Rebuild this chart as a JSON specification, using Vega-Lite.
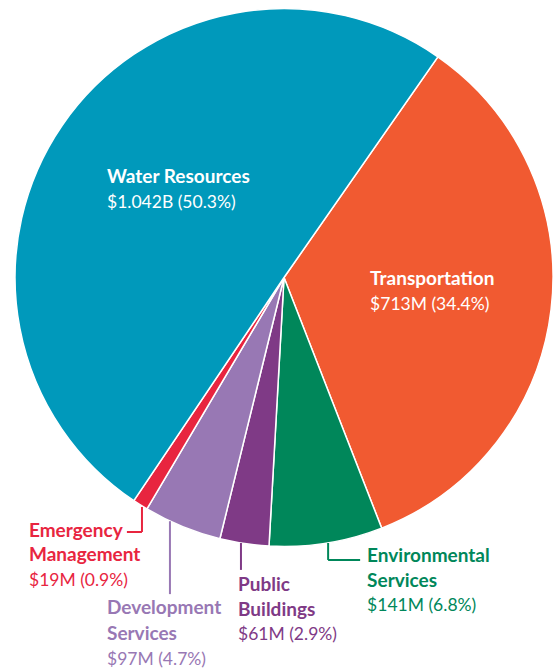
{
  "$schema": "https://vega.github.io/schema/vega-lite/v6.json",
  "width": 550,
  "height": 555,
  "autosize": {"type": "none"},
  "padding": {"left": 9, "top": 0, "right": 0, "bottom": 114},
  "background": "white",
  "config": {"view": {"stroke": null}},
  "datasets": {
    "slices": [
      {"cat": "Transportation", "amount": 713, "order": 1},
      {"cat": "Environmental Services", "amount": 141, "order": 2},
      {"cat": "Public Buildings", "amount": 61, "order": 3},
      {"cat": "Development Services", "amount": 97, "order": 4},
      {"cat": "Emergency Management", "amount": 19, "order": 5},
      {"cat": "Water Resources", "amount": 1042, "order": 6}
    ],
    "labels": [
      {"cat": "Water Resources", "text": "Water Resources", "kind": "name", "inside": true, "u": -65.8, "v": 35.1},
      {"cat": "Water Resources", "text": "$1.042B (50.3%)", "kind": "value", "inside": true, "u": -65.8, "v": 25.8},
      {"cat": "Transportation", "text": "Transportation", "kind": "name", "inside": true, "u": 32.0, "v": -2.8},
      {"cat": "Transportation", "text": "$713M (34.4%)", "kind": "value", "inside": true, "u": 32.0, "v": -12.1},
      {"cat": "Environmental Services", "text": "Environmental", "kind": "name", "inside": false, "u": 30.9, "v": -105.8},
      {"cat": "Environmental Services", "text": "Services", "kind": "name", "inside": false, "u": 30.9, "v": -115.1},
      {"cat": "Environmental Services", "text": "$141M (6.8%)", "kind": "value", "inside": false, "u": 30.9, "v": -124.0},
      {"cat": "Public Buildings", "text": "Public", "kind": "name", "inside": false, "u": -17.1, "v": -116.5},
      {"cat": "Public Buildings", "text": "Buildings", "kind": "name", "inside": false, "u": -17.1, "v": -125.8},
      {"cat": "Public Buildings", "text": "$61M (2.9%)", "kind": "value", "inside": false, "u": -17.1, "v": -134.8},
      {"cat": "Development Services", "text": "Development", "kind": "name", "inside": false, "u": -65.8, "v": -125.1},
      {"cat": "Development Services", "text": "Services", "kind": "name", "inside": false, "u": -65.8, "v": -134.8},
      {"cat": "Development Services", "text": "$97M (4.7%)", "kind": "value", "inside": false, "u": -65.8, "v": -144.1},
      {"cat": "Emergency Management", "text": "Emergency", "kind": "name", "inside": false, "u": -94.8, "v": -96.5},
      {"cat": "Emergency Management", "text": "Management", "kind": "name", "inside": false, "u": -94.8, "v": -105.4},
      {"cat": "Emergency Management", "text": "$19M (0.9%)", "kind": "value", "inside": false, "u": -94.8, "v": -114.7}
    ],
    "leaders": [
      {"cat": "Emergency Management", "u": -52.8, "v": -85.3, "u2": -52.8, "v2": -94.6},
      {"cat": "Emergency Management", "u": -58.4, "v": -94.6, "u2": -52.8, "v2": -94.6},
      {"cat": "Development Services", "u": -42.4, "v": -90.6, "u2": -42.4, "v2": -117.7},
      {"cat": "Public Buildings", "u": -16.0, "v": -98.7, "u2": -16.0, "v2": -108.7},
      {"cat": "Environmental Services", "u": 16.4, "v": -98.7, "u2": 16.4, "v2": -105.0},
      {"cat": "Environmental Services", "u": 16.4, "v": -105.0, "u2": 28.3, "v2": -105.0}
    ]
  },
  "layer": [
    {
      "data": {"name": "slices"},
      "mark": {"type": "arc", "outerRadius": 269, "stroke": "white", "strokeWidth": 1.5},
      "encoding": {
        "theta": {"field": "amount", "type": "quantitative", "stack": true, "scale": {"range": [0.609, 6.892]}},
        "order": {"field": "order", "type": "quantitative"},
        "color": {"field": "cat", "type": "nominal", "legend": null,
          "scale": {
            "domain": ["Transportation", "Environmental Services", "Public Buildings", "Development Services", "Emergency Management", "Water Resources"],
            "range": ["#F15A31", "#00875A", "#7F3A86", "#9878B4", "#E8253F", "#0099BB"]
          }}
      }
    },
    {
      "data": {"name": "leaders"},
      "mark": {"type": "rule", "strokeWidth": 2},
      "encoding": {
        "x": {"field": "u", "type": "quantitative", "axis": null, "scale": {"domain": [-102.23, 102.23], "nice": false, "zero": false}},
        "y": {"field": "v", "type": "quantitative", "axis": null, "scale": {"domain": [-103.16, 103.16], "nice": false, "zero": false}},
        "x2": {"field": "u2"},
        "y2": {"field": "v2"},
        "color": {"field": "cat", "type": "nominal", "legend": null}
      }
    },
    {
      "data": {"name": "labels"},
      "transform": [{"filter": "datum.kind == 'name' && !datum.inside"}],
      "mark": {"type": "text", "align": "left", "baseline": "alphabetic", "font": "Lato", "fontWeight": "bold", "fontSize": 19},
      "encoding": {
        "x": {"field": "u", "type": "quantitative"},
        "y": {"field": "v", "type": "quantitative"},
        "text": {"field": "text"},
        "color": {"field": "cat", "type": "nominal", "legend": null}
      }
    },
    {
      "data": {"name": "labels"},
      "transform": [{"filter": "datum.kind == 'value' && !datum.inside"}],
      "mark": {"type": "text", "align": "left", "baseline": "alphabetic", "font": "Lato", "fontSize": 17.5},
      "encoding": {
        "x": {"field": "u", "type": "quantitative"},
        "y": {"field": "v", "type": "quantitative"},
        "text": {"field": "text"},
        "color": {"field": "cat", "type": "nominal", "legend": null}
      }
    },
    {
      "data": {"name": "labels"},
      "transform": [{"filter": "datum.kind == 'name' && datum.inside"}],
      "mark": {"type": "text", "align": "left", "baseline": "alphabetic", "font": "Lato", "fontWeight": "bold", "fontSize": 19, "color": "white"},
      "encoding": {
        "x": {"field": "u", "type": "quantitative"},
        "y": {"field": "v", "type": "quantitative"},
        "text": {"field": "text"}
      }
    },
    {
      "data": {"name": "labels"},
      "transform": [{"filter": "datum.kind == 'value' && datum.inside"}],
      "mark": {"type": "text", "align": "left", "baseline": "alphabetic", "font": "Lato", "fontSize": 17.5, "color": "white"},
      "encoding": {
        "x": {"field": "u", "type": "quantitative"},
        "y": {"field": "v", "type": "quantitative"},
        "text": {"field": "text"}
      }
    }
  ]
}
